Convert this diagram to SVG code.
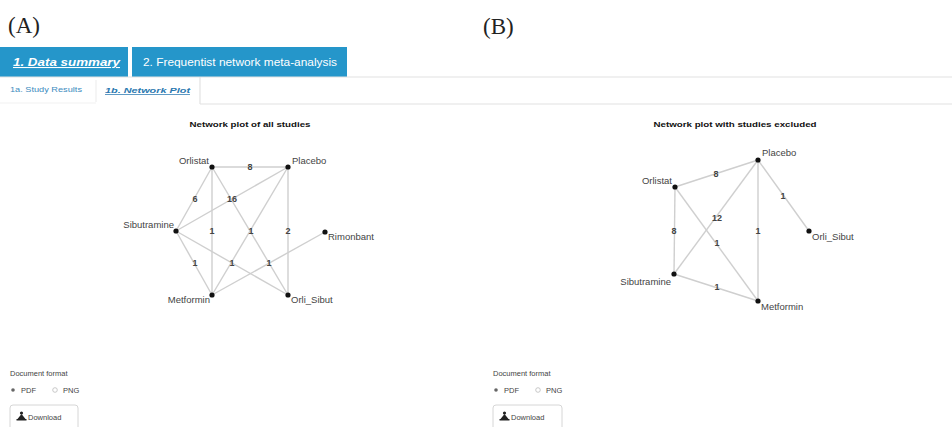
<svg xmlns="http://www.w3.org/2000/svg" width="952" height="427" viewBox="0 0 952 427">
<style>
.bg{fill:#fff}
.panel{font-family:"Liberation Serif",serif;font-size:23px;fill:#222}
.tab{fill:#2596ca}
.tabt{font-family:"Liberation Sans",Arial,sans-serif;font-size:10.5px;fill:#fff}
.tabt1{font-weight:bold;font-style:italic;text-decoration:underline}
.sub{font-family:"Liberation Sans",Arial,sans-serif;font-size:7.5px;fill:#3d8cc0}
.subA{font-weight:bold;font-style:italic;text-decoration:underline;fill:#2a78b0}
.rule{stroke:#e2e2e2;stroke-width:1.2;fill:none}
.title{font-family:"Liberation Sans",Arial,sans-serif;font-size:8px;font-weight:bold;fill:#111;text-anchor:middle}
.edge{stroke:#cfcfcf;stroke-width:1.4;fill:none}
.elab{font-family:"Liberation Sans",Arial,sans-serif;font-size:9px;font-weight:bold;fill:#444;text-anchor:middle;dominant-baseline:central}
.dot{fill:#111}
.nlab{font-family:"Liberation Sans",Arial,sans-serif;font-size:9.5px;fill:#444}
.end{text-anchor:end}
.small{font-family:"Liberation Sans",Arial,sans-serif;font-size:7.5px;fill:#444}
.btn{fill:#fff;stroke:#d6d6d6;stroke-width:1}
.icon{fill:#222}
</style>
<rect class="bg" x="0" y="0" width="952" height="427"/>

<g id="header">
<text class="panel" x="8" y="33">(A)</text>
<text class="panel" x="483" y="34">(B)</text>
<rect class="tab" x="0" y="47" width="128" height="30"/>
<rect class="tab" x="132" y="47" width="215" height="30"/>
<text class="tabt tabt1" x="13" y="66" textLength="107" lengthAdjust="spacingAndGlyphs">1. Data summary</text>
<text class="tabt" x="143" y="66" textLength="194" lengthAdjust="spacingAndGlyphs">2. Frequentist network meta-analysis</text>
<line class="rule" x1="0" y1="77" x2="952" y2="77"/>
<line class="rule" x1="200" y1="104" x2="952" y2="104"/>
<line class="rule" x1="200" y1="77" x2="200" y2="104"/>
<line class="rule" x1="96" y1="80" x2="96" y2="102" style="stroke:#eee"/>
<line class="rule" x1="0" y1="103" x2="96" y2="103" style="stroke:#f2f2f2"/>
<text class="sub" x="10" y="92" textLength="72" lengthAdjust="spacingAndGlyphs">1a. Study Results</text>
<text class="sub subA" x="105" y="93" textLength="85" lengthAdjust="spacingAndGlyphs">1b. Network Plot</text>
</g>

<text class="title" x="250" y="127" textLength="121" lengthAdjust="spacingAndGlyphs">Network plot of all studies</text>
<text class="title" x="735" y="127" textLength="163" lengthAdjust="spacingAndGlyphs">Network plot with studies excluded</text>

<g id="connectors">
<!-- Panel A -->
<line class="edge" x1="212" y1="167" x2="288" y2="167"/>
<line class="edge" x1="212" y1="167" x2="176" y2="231"/>
<line class="edge" x1="212" y1="167" x2="212" y2="295"/>
<line class="edge" x1="212" y1="167" x2="288" y2="295"/>
<line class="edge" x1="288" y1="167" x2="176" y2="231"/>
<line class="edge" x1="288" y1="167" x2="212" y2="295"/>
<line class="edge" x1="288" y1="167" x2="288" y2="295"/>
<line class="edge" x1="176" y1="231" x2="212" y2="295"/>
<line class="edge" x1="176" y1="231" x2="288" y2="295"/>
<line class="edge" x1="325" y1="232" x2="212" y2="295"/>
<text class="elab" x="250" y="167">8</text>
<text class="elab" x="195" y="199">6</text>
<text class="elab" x="212" y="231">1</text>
<text class="elab" x="251" y="231">1</text>
<text class="elab" x="232" y="199">16</text>
<text class="elab" x="288" y="231">2</text>
<text class="elab" x="195" y="263">1</text>
<text class="elab" x="232" y="263">1</text>
<text class="elab" x="269" y="263">1</text>
<!-- Panel B -->
<line class="edge" x1="675" y1="187" x2="758" y2="160"/>
<line class="edge" x1="758" y1="160" x2="809" y2="231"/>
<line class="edge" x1="675" y1="187" x2="674" y2="274"/>
<line class="edge" x1="675" y1="187" x2="758" y2="301"/>
<line class="edge" x1="758" y1="160" x2="674" y2="274"/>
<line class="edge" x1="758" y1="160" x2="758" y2="301"/>
<line class="edge" x1="674" y1="274" x2="758" y2="301"/>
<text class="elab" x="716" y="174">8</text>
<text class="elab" x="783" y="196">1</text>
<text class="elab" x="674" y="231">8</text>
<text class="elab" x="717" y="243">1</text>
<text class="elab" x="717" y="218">12</text>
<text class="elab" x="758" y="231">1</text>
<text class="elab" x="717" y="287">1</text>
</g>

<g id="A-Orlistat"><circle class="dot" cx="212" cy="167" r="2.6"/><text class="nlab end" x="209" y="164">Orlistat</text></g>
<g id="A-Placebo"><circle class="dot" cx="288" cy="167" r="2.6"/><text class="nlab" x="292" y="164">Placebo</text></g>
<g id="A-Sibutramine"><circle class="dot" cx="176" cy="231" r="2.6"/><text class="nlab end" x="174" y="228">Sibutramine</text></g>
<g id="A-Rimonbant"><circle class="dot" cx="325" cy="232" r="2.6"/><text class="nlab" x="328" y="240">Rimonbant</text></g>
<g id="A-Metformin"><circle class="dot" cx="212" cy="295" r="2.6"/><text class="nlab end" x="210" y="303">Metformin</text></g>
<g id="A-Orli_Sibut"><circle class="dot" cx="288" cy="295" r="2.6"/><text class="nlab" x="291" y="303">Orli_Sibut</text></g>

<g id="B-Placebo"><circle class="dot" cx="758" cy="160" r="2.6"/><text class="nlab" x="762" y="156">Placebo</text></g>
<g id="B-Orlistat"><circle class="dot" cx="675" cy="187" r="2.6"/><text class="nlab end" x="672" y="184">Orlistat</text></g>
<g id="B-Sibutramine"><circle class="dot" cx="674" cy="274" r="2.6"/><text class="nlab end" x="671" y="285">Sibutramine</text></g>
<g id="B-Metformin"><circle class="dot" cx="758" cy="301" r="2.6"/><text class="nlab" x="761" y="310">Metformin</text></g>
<g id="B-Orli_Sibut"><circle class="dot" cx="809" cy="231" r="2.6"/><text class="nlab" x="812" y="240">Orli_Sibut</text></g>

<g id="A-download">
<text class="small" x="10" y="376">Document format</text>
<circle cx="13" cy="390" r="1.8" fill="#666"/>
<text class="small" x="21" y="393">PDF</text>
<circle cx="55" cy="390" r="2.3" fill="none" stroke="#bbb" stroke-width="0.8"/>
<text class="small" x="63" y="393">PNG</text>
<rect class="btn" x="10" y="405" width="68" height="26" rx="3"/>
<circle class="icon" cx="21.5" cy="413" r="1.6"/>
<path class="icon" d="M21.5 414 l4 5 h-8 z M16.5 419 h10 v1.5 h-10 z"/>
<text class="small" x="28" y="420">Download</text>
</g>
<g id="B-download">
<text class="small" x="493" y="376">Document format</text>
<circle cx="496" cy="390" r="1.8" fill="#666"/>
<text class="small" x="504" y="393">PDF</text>
<circle cx="538" cy="390" r="2.3" fill="none" stroke="#bbb" stroke-width="0.8"/>
<text class="small" x="546" y="393">PNG</text>
<rect class="btn" x="493" y="405" width="69" height="26" rx="3"/>
<circle class="icon" cx="504.5" cy="413" r="1.6"/>
<path class="icon" d="M504.5 414 l4 5 h-8 z M499.5 419 h10 v1.5 h-10 z"/>
<text class="small" x="511" y="420">Download</text>
</g>
</svg>
